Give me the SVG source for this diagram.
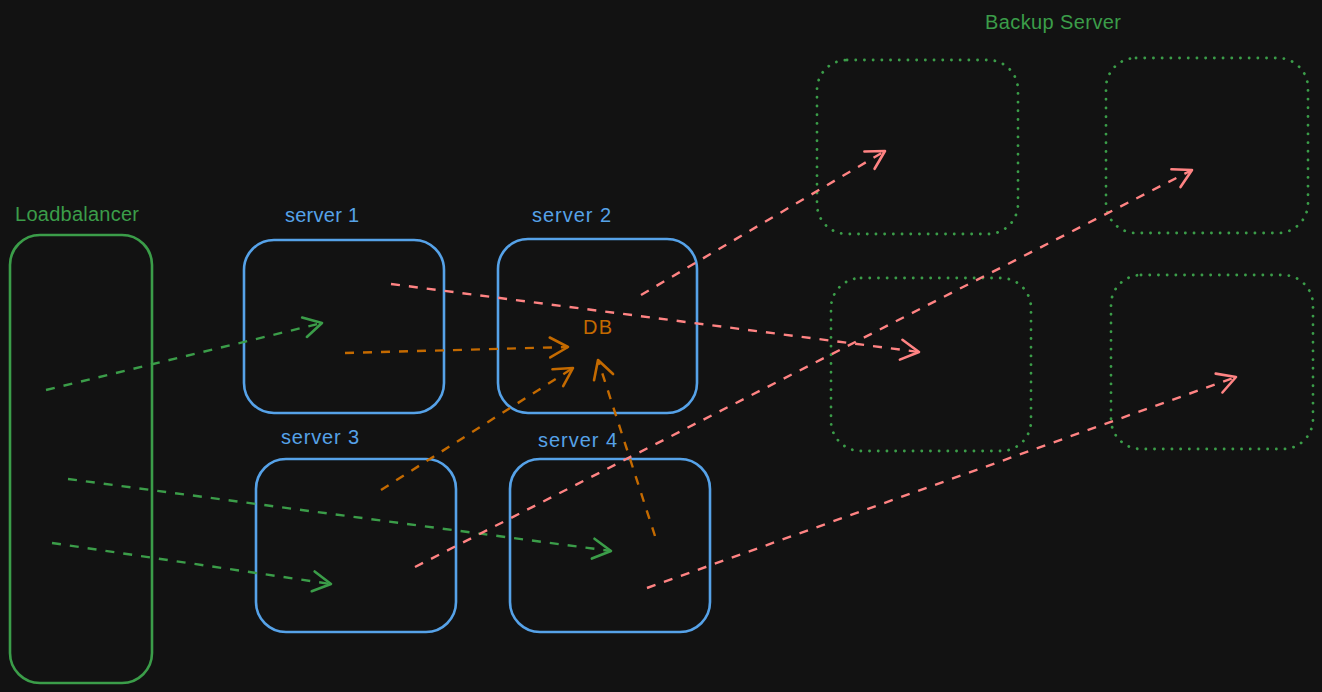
<svg xmlns="http://www.w3.org/2000/svg" width="1322" height="692" viewBox="0 0 1322 692">
<style>
.t{font-family:"Liberation Sans",sans-serif;font-size:20px}
.lb{fill:none;stroke:#3b9d49;stroke-width:2.6}
.srv{fill:none;stroke:#56a2e8;stroke-width:2.6}
.bk{fill:none;stroke:#3b9d49;stroke-width:2.8;stroke-dasharray:0.1 8.6;stroke-linecap:round}
.c{fill:none;stroke-width:2.4;stroke-dasharray:9 9}
.g{stroke:#3b9d49}.o{stroke:#c46a00}.r{stroke:#ff8383}
</style>
<defs>
<marker id="ag" markerUnits="userSpaceOnUse" markerWidth="30" markerHeight="30" refX="22" refY="15" orient="auto" overflow="visible"><path d="M4 5 L22 15 L4 25" fill="none" stroke="#3b9d49" stroke-width="2.6" stroke-linecap="round" stroke-linejoin="round"/></marker>
<marker id="ao" markerUnits="userSpaceOnUse" markerWidth="30" markerHeight="30" refX="22" refY="15" orient="auto" overflow="visible"><path d="M4 5 L22 15 L4 25" fill="none" stroke="#c46a00" stroke-width="2.6" stroke-linecap="round" stroke-linejoin="round"/></marker>
<marker id="ar" markerUnits="userSpaceOnUse" markerWidth="30" markerHeight="30" refX="22" refY="15" orient="auto" overflow="visible"><path d="M4 5 L22 15 L4 25" fill="none" stroke="#ff8383" stroke-width="2.6" stroke-linecap="round" stroke-linejoin="round"/></marker>
</defs>
<rect width="1322" height="692" fill="#121212"/>
<g id="loadbalancer">
<rect class="lb" x="10" y="235" width="142" height="448" rx="30"/>
<text class="t" x="15" y="221" fill="#3b9d49" textLength="124">Loadbalancer</text>
</g>
<g id="server1">
<rect class="srv" x="244" y="240" width="200" height="173" rx="30"/>
<text class="t" x="285" y="222" fill="#56a2e8" textLength="74">server 1</text>
</g>
<g id="server2">
<rect class="srv" x="498" y="239" width="199" height="174" rx="30"/>
<text class="t" x="532" y="222" fill="#56a2e8" textLength="79">server 2</text>
<text class="t" x="583" y="334" fill="#c46a00" textLength="29">DB</text>
</g>
<g id="server3">
<rect class="srv" x="256" y="459" width="200" height="173" rx="30"/>
<text class="t" x="281" y="444" fill="#56a2e8" textLength="78">server 3</text>
</g>
<g id="server4">
<rect class="srv" x="510" y="459" width="200" height="173" rx="30"/>
<text class="t" x="538" y="447" fill="#56a2e8" textLength="79">server 4</text>
</g>
<g id="backup-label">
<text class="t" x="985" y="29" fill="#3b9d49" textLength="136">Backup Server</text>
</g>
<g id="backup1"><rect class="bk" x="817" y="60" width="201" height="174" rx="30"/></g>
<g id="backup2"><rect class="bk" x="1106" y="58" width="202" height="175" rx="30"/></g>
<g id="backup3"><rect class="bk" x="831" y="278" width="200" height="173" rx="30"/></g>
<g id="backup4"><rect class="bk" x="1111" y="275" width="202" height="174" rx="30"/></g>
<g id="connectors">
<path class="c g" d="M46 390 L322 323" marker-end="url(#ag)"/>
<path class="c g" d="M68 479 L611 551" marker-end="url(#ag)"/>
<path class="c g" d="M52 543 L331 584" marker-end="url(#ag)"/>
<path class="c o" d="M345 353 L568 347" marker-end="url(#ao)"/>
<path class="c o" d="M381 490 L573 368" marker-end="url(#ao)"/>
<path class="c o" d="M655 536 L598 360" marker-end="url(#ao)"/>
<path class="c r" d="M391 284 L919 352" marker-end="url(#ar)"/>
<path class="c r" d="M641 295 L885 151" marker-end="url(#ar)"/>
<path class="c r" d="M415 567 L1192 170" marker-end="url(#ar)"/>
<path class="c r" d="M647 588 L1236 377" marker-end="url(#ar)"/>
</g>
</svg>
